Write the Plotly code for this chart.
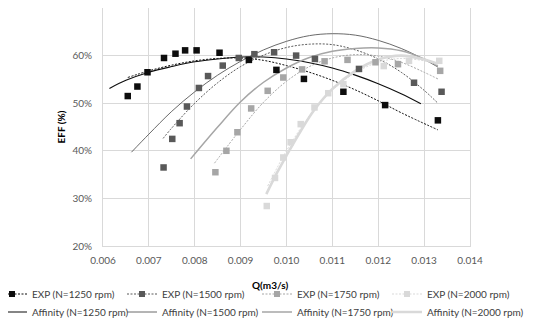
import plotly.graph_objects as go

# ---- experimental points ----
exp1250_q = [0.00654, 0.00675, 0.00697, 0.00733, 0.00758, 0.00779, 0.00804, 0.00854, 0.00918, 0.00978, 0.01038, 0.01124, 0.01215, 0.0133]
exp1250_e = [51.5, 53.5, 56.5, 59.5, 60.4, 61.1, 61.1, 60.6, 59.1, 57.0, 55.1, 52.4, 49.6, 46.4]

exp1500_q = [0.00732, 0.00751, 0.00767, 0.00783, 0.00809, 0.00829, 0.00861, 0.00896, 0.0093, 0.00973, 0.01021, 0.01062, 0.01158, 0.01278, 0.01338]
exp1500_e = [36.5, 42.5, 45.8, 49.3, 53.2, 55.7, 57.9, 59.5, 60.3, 60.7, 60.0, 59.3, 57.2, 54.3, 52.4]

exp1750_q = [0.00845, 0.00869, 0.00893, 0.00923, 0.00959, 0.00993, 0.01034, 0.01083, 0.01133, 0.01194, 0.01243, 0.01335]
exp1750_e = [35.5, 40.0, 43.9, 48.9, 52.6, 55.4, 57.1, 58.8, 59.1, 58.6, 58.2, 56.8]

exp2000_q = [0.00957, 0.00975, 0.00993, 0.01009, 0.01031, 0.01061, 0.01091, 0.01124, 0.01212, 0.01267, 0.01333]
exp2000_e = [28.4, 34.3, 38.6, 41.8, 45.6, 49.1, 52.1, 54.0, 57.8, 58.9, 58.9]

# ---- EXP trend curves ----
trend1250_q = [0.00654, 0.0070, 0.0075, 0.0080, 0.0085, 0.0090, 0.0095, 0.0100, 0.0105, 0.0110, 0.0115, 0.0120, 0.0125, 0.0133]
trend1250_e = [55.4, 56.8, 58.0, 58.9, 59.4, 59.5, 59.0, 57.9, 56.5, 54.8, 52.8, 50.5, 48.0, 44.4]

trend1500_q = [0.00731, 0.0075, 0.0080, 0.0085, 0.0090, 0.0095, 0.0100, 0.0105, 0.0110, 0.0115, 0.0120, 0.0125, 0.0130, 0.0133]
trend1500_e = [42.6, 44.8, 50.0, 54.3, 57.7, 60.1, 61.7, 62.4, 62.3, 61.2, 59.3, 56.5, 52.7, 50.0]

trend1750_q = [0.00843, 0.0090, 0.0095, 0.0100, 0.0105, 0.0110, 0.0115, 0.0120, 0.0125, 0.0130, 0.0133]
trend1750_e = [37.4, 44.5, 50.2, 54.6, 57.7, 59.5, 60.2, 59.9, 58.6, 56.5, 55.1]

trend2000_q = [0.00959, 0.0100, 0.0105, 0.0110, 0.0115, 0.0120, 0.0125, 0.0130, 0.0133]
trend2000_e = [32.6, 40.0, 47.3, 52.7, 56.4, 58.6, 59.4, 58.9, 58.1]

# ---- Affinity curves ----
aff1250_q = [0.00614, 0.0065, 0.0070, 0.0075, 0.0080, 0.0085, 0.0090, 0.0095, 0.0100, 0.0105, 0.0110, 0.0115, 0.0120, 0.0125, 0.01293]
aff1250_e = [53.1, 54.8, 56.5, 57.7, 58.7, 59.3, 59.7, 59.7, 59.3, 58.5, 57.4, 55.9, 54.1, 52.0, 49.9]

aff1500_q = [0.00662, 0.0070, 0.0075, 0.0080, 0.0085, 0.0090, 0.0095, 0.0100, 0.0105, 0.0110, 0.0115, 0.0120, 0.0125, 0.0130, 0.0133]
aff1500_e = [39.7, 43.5, 48.3, 52.4, 55.9, 58.8, 61.2, 63.0, 64.2, 64.6, 64.3, 63.2, 61.5, 59.2, 57.6]

aff1750_q = [0.00791, 0.0085, 0.0090, 0.0095, 0.0100, 0.0105, 0.0110, 0.0115, 0.0120, 0.0125, 0.0130, 0.0133]
aff1750_e = [38.3, 45.0, 50.3, 54.4, 57.4, 59.6, 60.9, 61.5, 61.6, 61.0, 59.3, 57.8]

aff2000_q = [0.00956, 0.0098, 0.0100, 0.0103, 0.0106, 0.0110, 0.0115, 0.0120, 0.0125, 0.0130, 0.0133]
aff2000_e = [30.9, 35.5, 39.0, 44.0, 48.5, 53.0, 56.8, 59.2, 60.0, 59.2, 58.3]

x_ticks = [0.006, 0.007, 0.008, 0.009, 0.010, 0.011, 0.012, 0.013, 0.014]
y_ticks = [20, 30, 40, 50, 60, 70]
y_tick_labels = ["20%", "30%", "40%", "50%", "60%", "70%"]

speeds = ["1250", "1500", "1750", "2000"]
colors = ["#0d0d0d", "#595959", "#a6a6a6", "#d9d9d9"]
aff_widths = [1.1, 0.9, 1.5, 2.6]
dot_pattern = "2px,1.5px"

exp_q = [exp1250_q, exp1500_q, exp1750_q, exp2000_q]
exp_e = [exp1250_e, exp1500_e, exp1750_e, exp2000_e]
tr_q = [trend1250_q, trend1500_q, trend1750_q, trend2000_q]
tr_e = [trend1250_e, trend1500_e, trend1750_e, trend2000_e]
af_q = [aff1250_q, aff1500_q, aff1750_q, aff2000_q]
af_e = [aff1250_e, aff1500_e, aff1750_e, aff2000_e]

fig = go.Figure()

for i in range(4):
    fig.add_trace(go.Scatter(x=af_q[i], y=af_e[i], mode="lines",
                             line=dict(color=colors[i], width=aff_widths[i], shape="spline"),
                             showlegend=False, hoverinfo="skip"))
    fig.add_trace(go.Scatter(x=tr_q[i], y=tr_e[i], mode="lines",
                             line=dict(color=colors[i], width=1, dash=dot_pattern, shape="spline"),
                             showlegend=False, hoverinfo="skip"))
for i in range(4):
    fig.add_trace(go.Scatter(x=exp_q[i], y=exp_e[i], mode="markers",
                             marker=dict(symbol="square", size=6.5, color=colors[i]),
                             showlegend=False))

# ---- layout geometry (page body adds an 8px offset, compensated here) ----
OFF = 8
W, H = 550, 326
m_l, m_r, m_t, m_b = 103 - OFF, W - (470 - OFF), 0, 88
plot_left, plot_w = m_l, W - m_l - m_r
plot_bottom, plot_h = H - m_b, H - m_t - m_b

def px_x(screen_x):
    return (screen_x - OFF - plot_left) / plot_w

def px_y(screen_y):
    return (plot_bottom - (screen_y - OFF)) / plot_h

text_cols = [32, 162, 297, 427]      # screen x of legend text start
rows = [295, 313]                    # screen y of legend row centres
TEXT_OFF, ROW_OFF = 40, 15.5

legend_layout = {}
k = 0
for r, kind in enumerate(["EXP", "Affinity"]):
    for i in range(4):
        k += 1
        lname = "legend" if k == 1 else "legend%d" % k
        if kind == "EXP":
            fig.add_trace(go.Scatter(x=[None], y=[None], mode="lines+markers",
                                     line=dict(color=colors[i], width=1, dash=dot_pattern),
                                     marker=dict(symbol="square", size=6, color=colors[i]),
                                     name="EXP (N=%s rpm)" % speeds[i], legend=lname))
        else:
            fig.add_trace(go.Scatter(x=[None], y=[None], mode="lines",
                                     line=dict(color=colors[i], width=aff_widths[i]),
                                     name="Affinity (N=%s rpm)" % speeds[i], legend=lname))
        legend_layout[lname] = dict(
            orientation="v", xanchor="left", yanchor="top",
            x=px_x(text_cols[i] - TEXT_OFF), y=px_y(rows[r] - ROW_OFF),
            font=dict(size=10, color="#404040"), itemwidth=30,
            bgcolor="rgba(0,0,0,0)", tracegroupgap=0)

font_family = "Lato, 'Open Sans', sans-serif"

fig.update_layout(
    width=W, height=H,
    margin=dict(l=m_l, r=m_r, t=m_t, b=m_b, autoexpand=False),
    paper_bgcolor="white", plot_bgcolor="white",
    font=dict(family=font_family, size=10, color="#404040"),
    showlegend=True,
    xaxis=dict(range=[0.006, 0.014], tickvals=x_ticks, tickformat=".3f",
               showgrid=True, gridcolor="#d9d9d9", gridwidth=1, zeroline=False,
               showline=True, linecolor="#d9d9d9", mirror=True,
               ticks="", ticklabelstandoff=5,
               tickfont=dict(size=10, color="#595959")),
    yaxis=dict(range=[20, 70], tickvals=y_ticks, ticktext=y_tick_labels,
               showgrid=True, gridcolor="#d9d9d9", gridwidth=1, zeroline=False,
               showline=True, linecolor="#d9d9d9", mirror=True,
               ticks="", ticklabelstandoff=8,
               tickfont=dict(size=10, color="#595959"),
               title=dict(text="<b>EFF (%)</b>", font=dict(size=10, color="#000000"), standoff=4)),
    annotations=[dict(text="<b>Q(m3/s)</b>", x=px_x(270), y=px_y(285),
                      xref="paper", yref="paper",
                      xanchor="center", yanchor="middle", showarrow=False,
                      font=dict(size=10, color="#000000"))],
    **legend_layout,
)

fig.write_html("out.html")
